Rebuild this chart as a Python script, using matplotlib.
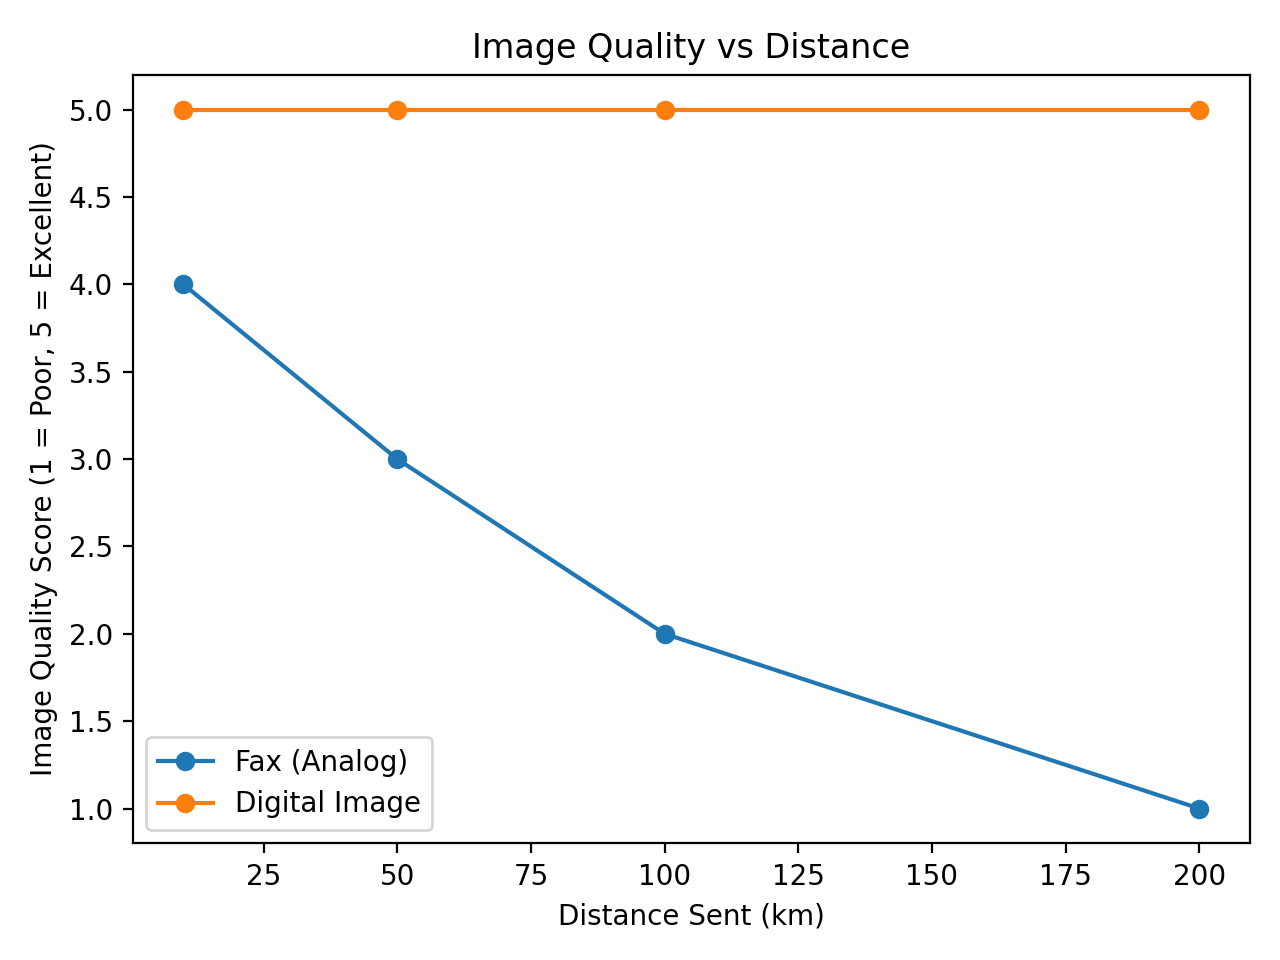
import matplotlib
matplotlib.use("Agg")
import matplotlib.pyplot as plt

# distance the image was sent, in km
distances = [10, 50, 100, 200]

# quality scores (1 = poor, 5 = excellent)
fax_quality = [4, 3, 2, 1]
digital_quality = [5, 5, 5, 5]


def plot_quality():
    plt.figure(figsize=(6.4, 4.8))
    plt.plot(distances, fax_quality, marker='o', label="Fax (Analog)")
    plt.plot(distances, digital_quality, marker='o', label="Digital Image")
    plt.xlabel("Distance Sent (km)")
    plt.ylabel("Image Quality Score (1 = Poor, 5 = Excellent)")
    plt.title("Image Quality vs Distance")
    plt.legend()
    plt.tight_layout()
    plt.savefig("out.png", dpi=200)


if __name__ == "__main__":
    plot_quality()
